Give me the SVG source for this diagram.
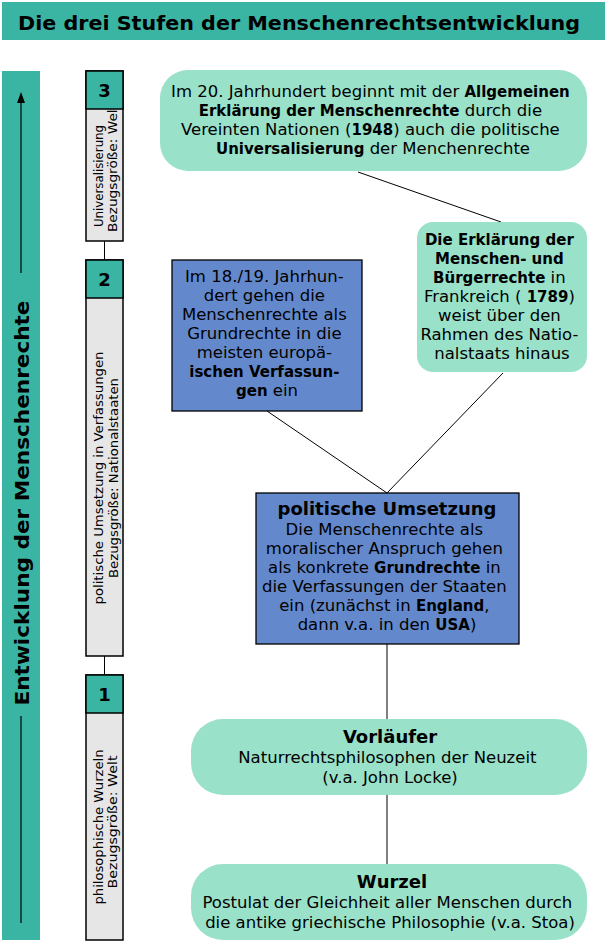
<svg xmlns="http://www.w3.org/2000/svg" width="608" height="944" viewBox="0 0 608 944">
<defs>
<style>
.teal{fill:#3ab5a3}
.mint{fill:#99e1c8}
.blue{fill:#6389cc;stroke:#000;stroke-width:1.3}
.gray{fill:#e6e6e6;stroke:#000;stroke-width:1.5}
.num{fill:#3ab5a3;stroke:#000;stroke-width:1.5}
.t{font-family:"DejaVu Sans",Verdana,sans-serif;fill:#000}
.body{font-size:16.5px;text-anchor:middle}
.small{font-size:13px;text-anchor:middle}
.b{font-weight:bold;font-size:15px}
.head{font-size:18px;font-weight:bold;text-anchor:middle}
.conn line{stroke:#000;stroke-width:1}
</style>
</defs>
<rect width="608" height="944" fill="#fff"/>

<g id="title">
<rect x="2" y="2" width="603" height="38" class="teal"/>
<text x="18" y="30" class="t" font-weight="bold" font-size="20" textLength="562" lengthAdjust="spacingAndGlyphs">Die drei Stufen der Menschenrechtsentwicklung</text>
</g>

<g id="axis">
<rect x="2" y="71" width="38" height="869" class="teal"/>
<line x1="21" y1="273" x2="21" y2="102" stroke="#000" stroke-width="1.2"/>
<path d="M17,103 L21,92 L25,103 Z" fill="#000"/>
<line x1="21" y1="716" x2="21" y2="923" stroke="#000" stroke-width="1.2"/>
<text transform="translate(29,503) rotate(-90)" class="t" font-weight="bold" font-size="20" text-anchor="middle" textLength="405" lengthAdjust="spacingAndGlyphs">Entwicklung der Menschenrechte</text>
</g>

<g class="conn" id="connectors">
<line x1="104.5" y1="241" x2="104.5" y2="260"/>
<line x1="104.5" y1="656" x2="104.5" y2="675"/>
<line x1="358" y1="172" x2="501" y2="222"/>
<line x1="267" y1="411" x2="387" y2="493"/>
<line x1="503" y1="373" x2="387" y2="493"/>
<line x1="387" y1="644" x2="387" y2="720"/>
<line x1="387" y1="795" x2="387" y2="865"/>
</g>

<g id="stage3">
<rect x="86" y="71" width="37" height="170" class="gray"/>
<text transform="translate(103,176) rotate(-90)" class="t small" textLength="102" lengthAdjust="spacingAndGlyphs">Universalisierung</text>
<text transform="translate(117,168) rotate(-90)" class="t small" textLength="128" lengthAdjust="spacingAndGlyphs">Bezugsgröße: Welt</text>
<rect x="86" y="71" width="37" height="38" class="num"/>
<text x="104.5" y="97" class="t head">3</text>
</g>

<g id="stage2">
<rect x="86" y="260" width="37" height="396" class="gray"/>
<rect x="86" y="260" width="37" height="38" class="num"/>
<text x="104.5" y="286" class="t head">2</text>
<text transform="translate(103,478) rotate(-90)" class="t small" textLength="253" lengthAdjust="spacingAndGlyphs">politische Umsetzung in Verfassungen</text>
<text transform="translate(118,478) rotate(-90)" class="t small" textLength="200" lengthAdjust="spacingAndGlyphs">Bezugsgröße: Nationalstaaten</text>
</g>

<g id="stage1">
<rect x="86" y="675" width="37" height="265" class="gray"/>
<rect x="86" y="675" width="37" height="38" class="num"/>
<text x="104.5" y="701" class="t head">1</text>
<text transform="translate(103,827) rotate(-90)" class="t small" textLength="155" lengthAdjust="spacingAndGlyphs">philosophische Wurzeln</text>
<text transform="translate(117,822) rotate(-90)" class="t small" textLength="133" lengthAdjust="spacingAndGlyphs">Bezugsgröße: Welt</text>
</g>

<g id="universal">
<rect x="160" y="70" width="427" height="101" rx="28" class="mint"/>
<text class="t body">
<tspan x="373" y="97">Im 20. Jahrhundert beginnt mit der <tspan class="b">Allgemeinen</tspan></tspan>
<tspan x="373" y="116"><tspan class="b">Erklärung der Menschenrechte</tspan>  durch die</tspan>
<tspan x="373" y="135">Vereinten Nationen (<tspan class="b">1948</tspan>) auch die politische</tspan>
<tspan x="373" y="154"><tspan class="b">Universalisierung</tspan>   der Menchenrechte</tspan>
</text>
</g>

<g id="frankreich">
<rect x="417" y="222" width="170" height="150" rx="16" class="mint"/>
<text class="t body">
<tspan x="502" y="245" class="b">Die Erklärung der</tspan>
<tspan x="502" y="264" class="b">Menschen- und</tspan>
<tspan x="502" y="283"><tspan class="b">Bürgerrechte</tspan> in</tspan>
<tspan x="502" y="302">Frankreich ( <tspan class="b">1789</tspan>)</tspan>
<tspan x="502" y="321">weist über den</tspan>
<tspan x="502" y="340">Rahmen des Natio-</tspan>
<tspan x="502" y="359">nalstaats hinaus</tspan>
</text>
</g>

<g id="verfassungen">
<rect x="172" y="260" width="190" height="151" class="blue"/>
<text class="t body">
<tspan x="267" y="282">Im 18./19. Jahrhun-</tspan>
<tspan x="267" y="301">dert gehen die</tspan>
<tspan x="267" y="320">Menschenrechte als</tspan>
<tspan x="267" y="339">Grundrechte in die</tspan>
<tspan x="267" y="358">meisten europä-</tspan>
<tspan x="267" y="377" class="b">ischen Verfassun-</tspan>
<tspan x="267" y="396"><tspan class="b">gen</tspan> ein</tspan>
</text>
</g>

<g id="umsetzung">
<rect x="256" y="493" width="263" height="151" class="blue"/>
<text x="387" y="515" class="t head" font-size="17">politische Umsetzung</text>
<text class="t body">
<tspan x="387" y="535">Die Menschenrechte als</tspan>
<tspan x="387" y="554">moralischer Anspruch gehen</tspan>
<tspan x="387" y="573">als konkrete <tspan class="b">Grundrechte</tspan> in</tspan>
<tspan x="387" y="592">die Verfassungen der Staaten</tspan>
<tspan x="387" y="611">ein (zunächst in <tspan class="b">England</tspan>,</tspan>
<tspan x="387" y="630">dann v.a. in den <tspan class="b">USA</tspan>)</tspan>
</text>
</g>

<g id="vorlaeufer">
<rect x="191" y="719" width="396" height="76" rx="32" class="mint"/>
<text x="390" y="743" class="t head" font-size="19">Vorläufer</text>
<text class="t body">
<tspan x="390" y="763">Naturrechtsphilosophen der Neuzeit</tspan>
<tspan x="390" y="783">(v.a. John Locke)</tspan>
</text>
</g>

<g id="wurzel">
<rect x="191" y="864" width="396" height="76" rx="32" class="mint"/>
<text x="392" y="888" class="t head" font-size="20">Wurzel</text>
<text class="t body">
<tspan x="390" y="908">Postulat der Gleichheit aller Menschen durch</tspan>
<tspan x="390" y="928">die antike griechische Philosophie (v.a. Stoa)</tspan>
</text>
</g>
</svg>
